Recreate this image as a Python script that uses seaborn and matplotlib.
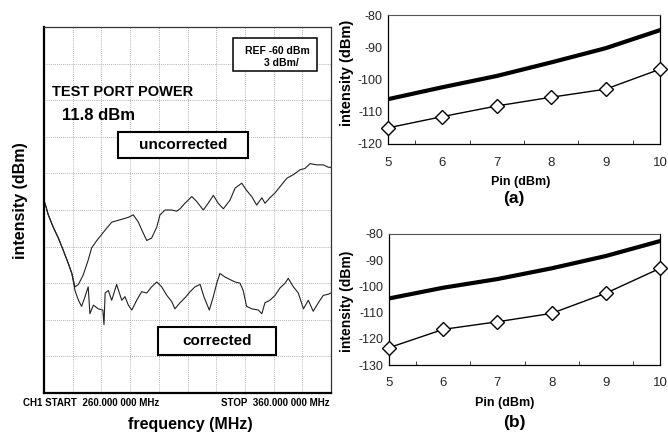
import numpy as np
import pandas as pd
import matplotlib
matplotlib.use("Agg")
import matplotlib.pyplot as plt
import matplotlib.patches as mpatches
import seaborn as sns

# ---------------- data ----------------
# Left panel: network-analyzer traces (frequency in MHz, level in dBm)
unc_f = [260.0, 260.35, 261.5, 263.2, 265.0, 266.7, 268.5, 269.7, 270.8,
         272.0, 273.7, 275.4, 276.6, 278.4, 280.1, 281.8, 283.6, 286.5, 289.4,
         291.1, 292.9, 294.0, 295.8, 297.5, 299.3, 300.4, 302.2, 304.5, 306.2,
         307.4, 309.1, 311.5, 313.2, 315.5, 317.2, 319.0, 320.7, 322.5, 324.8,
         326.6, 328.9, 330.6, 332.4, 334.1, 335.9, 337.0, 338.7, 340.5, 342.2,
         344.6, 346.9, 349.2, 350.9, 352.7, 355.0, 357.3, 359.1, 360.0]
unc_db = [-74.3, -74.45, -75.4, -76.4, -77.3, -78.3, -79.4, -80.2, -81.3,
          -81.1, -80.3, -79.1, -78.1, -77.5, -77.0, -76.5, -76.0, -75.8, -75.6,
          -75.4, -76.0, -76.6, -77.5, -77.3, -76.4, -75.4, -75.0, -75.0, -75.1,
          -74.9, -74.45, -73.9, -74.3, -75.0, -74.45, -73.8, -74.45, -74.9, -74.2,
          -73.2, -72.8, -73.4, -73.9, -74.6, -74.0, -74.45, -74.0, -73.6, -73.1,
          -72.4, -72.1, -71.7, -71.6, -71.2, -71.3, -71.3, -71.5, -71.5]

cor_f = [260.0, 260.35, 261.5, 263.2, 265.0, 266.7, 268.5, 269.7,
         270.8, 272.0, 273.1, 274.3, 275.4, 276.0, 277.2, 278.9, 280.5, 280.9,
         281.3, 282.4, 283.6, 285.3, 287.1, 288.2, 289.4, 290.6, 292.3, 294.0,
         295.8, 297.5, 299.3, 301.0, 302.8, 304.5, 305.6, 307.4, 309.1, 310.9,
         312.6, 314.4, 315.7, 317.6, 319.0, 320.2, 321.3, 323.1, 324.8, 326.6,
         328.3, 329.4, 330.6, 332.4, 334.7, 335.9, 337.0, 338.7, 340.5, 342.2,
         344.0, 345.1, 346.9, 348.6, 350.4, 352.1, 353.8, 355.6, 357.3, 359.1,
         360.0]
cor_db = [-74.3, -74.45, -75.4, -76.4, -77.3, -78.3, -79.4, -80.2,
          -81.6, -82.4, -82.9, -82.1, -81.3, -83.5, -82.8, -83.1, -83.2, -84.4,
          -81.8, -81.6, -82.4, -81.1, -82.4, -82.1, -82.8, -83.2, -82.4, -81.7,
          -81.8, -81.3, -80.9, -81.3, -82.0, -82.5, -83.1, -82.6, -82.2, -81.7,
          -81.3, -81.1, -82.1, -83.2, -82.1, -81.0, -80.2, -80.5, -80.7, -80.9,
          -81.0, -81.6, -82.9, -83.1, -83.2, -83.5, -82.6, -82.4, -82.0, -81.4,
          -81.0, -80.6, -81.3, -81.8, -83.1, -82.4, -83.3, -82.6, -82.0, -81.9,
          -81.8]

# Right panels
pin = [5, 6, 7, 8, 9, 10]
a_thick = [-106.1, -102.4, -98.9, -94.7, -90.3, -84.7]
a_diam = [-115.0, -111.5, -108.2, -105.5, -103.0, -96.8]
b_thick = [-104.6, -100.5, -97.2, -93.1, -88.4, -82.7]
b_diam = [-123.4, -116.4, -113.5, -110.3, -102.6, -93.1]

a_yticks = [-120, -110, -100, -90, -80]
b_yticks = [-130, -120, -110, -100, -90, -80]

# ---------------- style ----------------
sns.set_style("white")
plt.rcParams['font.family'] = ['Liberation Sans', 'DejaVu Sans']

W, H = 668, 434
fig = plt.figure(figsize=(W / 100, H / 100), dpi=100)


def fx(px):
    return px / W


def fy(py):
    return 1 - py / H


def ax_rect(x0, y0, x1, y1):
    return [fx(x0), fy(y1), (x1 - x0) / W, (y1 - y0) / H]


def ftext(x, y, s, size, ha='center', va='center', weight='bold', rot=0):
    fig.text(fx(x), fy(y), s, fontsize=size, ha=ha, va=va,
             fontweight=weight, rotation=rot, color='black', zorder=10)


def fbox(x0, y0, x1, y1, lw):
    fig.patches.append(mpatches.Rectangle((fx(x0), fy(y1)), (x1 - x0) / W,
                                          (y1 - y0) / H, transform=fig.transFigure,
                                          fill=True, facecolor='white',
                                          edgecolor='black', lw=lw, zorder=5))


# ---------------- left panel ----------------
axL = fig.add_axes(ax_rect(44, 27, 331, 393))
dfu = pd.DataFrame({'f': unc_f, 'db': unc_db})
dfc = pd.DataFrame({'f': cor_f, 'db': cor_db})
sns.lineplot(data=dfu, x='f', y='db', sort=False, estimator=None,
             color='#222222', lw=0.8, ax=axL)
sns.lineplot(data=dfc, x='f', y='db', sort=False, estimator=None,
             color='#222222', lw=0.8, ax=axL)
axL.set_xlim(260, 360)
axL.set_ylim(-90, -60)
axL.set_xticks(np.arange(260, 361, 10))
axL.set_yticks(np.arange(-90, -59.9, 3))
axL.grid(True, color='#999999', lw=0.6, linestyle=(0, (1, 1.5)))
axL.set_axisbelow(True)
axL.tick_params(length=0, labelbottom=False, labelleft=False)
axL.set_xlabel('')
axL.set_ylabel('')
for side in ['left', 'bottom']:
    axL.spines[side].set_linewidth(1.6)
    axL.spines[side].set_color('black')
for side in ['top', 'right']:
    axL.spines[side].set_linewidth(0.9)
    axL.spines[side].set_color('#333333')

ftext(52, 92, 'TEST PORT POWER', 10.5, ha='left')
ftext(62, 116, '11.8 dBm', 12, ha='left')

fbox(233, 38, 317, 71, 1.1)
ftext(277, 50.5, 'REF -60 dBm', 7.5)
ftext(281, 63, '3 dBm/', 7.5)

fbox(118, 132, 248, 158, 1.5)
ftext(183, 145, 'uncorrected', 11)

fbox(158, 327, 276, 355, 1.5)
ftext(217, 341, 'corrected', 11)

ftext(23, 403, 'CH1 START  260.000 000 MHz', 7, ha='left')
ftext(330, 403, 'STOP  360.000 000 MHz', 7, ha='right')
ftext(190, 424, 'frequency (MHz)', 11.5)
ftext(21, 201, 'intensity (dBm)', 11.5, rot=90)


# ---------------- right panels ----------------
def right_panel(rect, thick, diam, ylim, yticks):
    ax = fig.add_axes(rect)
    sns.lineplot(x=pin, y=thick, color='black', lw=3.0, ax=ax)
    sns.lineplot(x=pin, y=diam, color='black', lw=1.0, marker='D',
                 markersize=7, markerfacecolor='white',
                 markeredgecolor='black', markeredgewidth=1.0, ax=ax,
                 clip_on=False, zorder=4)
    ax.set_xlim(5, 10)
    ax.set_ylim(*ylim)
    ax.set_xticks(pin)
    ax.set_yticks(yticks)
    ax.set_xticklabels([str(p) for p in pin], fontsize=9.5)
    ax.set_yticklabels([str(t) for t in yticks], fontsize=9)
    ax.tick_params(axis='x', length=0, pad=9)
    ax.tick_params(axis='y', length=0, pad=4)
    ax.set_xticks(np.arange(5.5, 10, 0.5), minor=True)
    ax.tick_params(axis='x', which='minor', direction='in', length=3,
                   width=0.6, bottom=True)
    ax.set_xlabel('')
    ax.set_ylabel('')
    for side in ['left', 'bottom', 'right']:
        ax.spines[side].set_linewidth(0.9)
        ax.spines[side].set_color('black')
    ax.spines['top'].set_linewidth(0.8)
    ax.spines['top'].set_color('#555555')
    ax.spines['top'].set_linestyle((0, (1, 1)))
    return ax


axA = right_panel(ax_rect(388, 15, 660, 144), a_thick, a_diam, (-120, -80), a_yticks)
axB = right_panel(ax_rect(389, 234, 660, 365), b_thick, b_diam, (-130, -80), b_yticks)

ftext(347, 73, 'intensity (dBm)', 10.5, rot=90)
ftext(521, 182, 'Pin (dBm)', 9)
ftext(514, 198, '(a)', 12.5)

ftext(347, 301, 'intensity (dBm)', 10, rot=90)
ftext(505, 403, 'Pin (dBm)', 9)
ftext(514, 422, '(b)', 12.5)

fig.savefig('out.png', dpi=100, facecolor='white')
